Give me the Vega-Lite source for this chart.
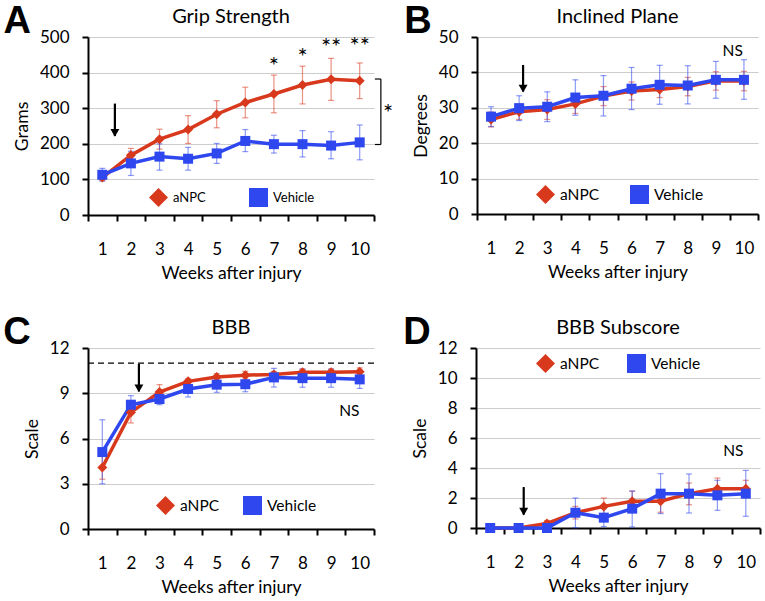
{
"$schema":"https://vega.github.io/schema/vega-lite/v6.json",
"padding":{"left":3,"top":3,"right":2,"bottom":2},
"config":{
 "font":"Lato",
 "view":{"stroke":null},
 "axis":{"domainColor":"#000","domainWidth":2,"tickColor":"#000","tickWidth":2,"tickSize":6,"labelFontSize":17,"labelColor":"#000","titleFontSize":17.5,"titleColor":"#000","titleFontWeight":"normal","labelFont":"Lato","titleFont":"Lato"},
 "axisX":{"grid":false,"labelPadding":20,"titlePadding":7,"labelFlush":false,"labelOverlap":false,"labelAngle":0},
 "axisY":{"gridColor":"#cccccc","gridWidth":1.2,"labelPadding":13,"titlePadding":8,"labelOverlap":false},
 "title":{"fontSize":20,"fontWeight":"normal","color":"#000","font":"Lato","offset":1},
 "legend":{"labelFont":"Lato","labelColor":"#000","symbolOpacity":1}
},
"resolve":{"scale":{"color":"independent","shape":"independent"},"legend":{"color":"independent","shape":"independent"}},
"spacing":32,
"vconcat":[
{"resolve":{"scale":{"color":"independent","shape":"independent"},"legend":{"color":"independent","shape":"independent"}},
 "hconcat":[
 {"title":{"text":"A","anchor":"start","fontSize":38,"fontWeight":"bold","font":"Liberation Sans","offset":-34,"dx":-10},
  "vconcat":[{
   "title":"Grip Strength","width":286,"height":178,
   "data":{"values":[
    {"week":1,"group":"aNPC","mean":105,"lo":97,"hi":113},
    {"week":2,"group":"aNPC","mean":168,"lo":149,"hi":187},
    {"week":3,"group":"aNPC","mean":213,"lo":185,"hi":241},
    {"week":4,"group":"aNPC","mean":240,"lo":201,"hi":279},
    {"week":5,"group":"aNPC","mean":283,"lo":245,"hi":321},
    {"week":6,"group":"aNPC","mean":316,"lo":273,"hi":359},
    {"week":7,"group":"aNPC","mean":340,"lo":287,"hi":393},
    {"week":8,"group":"aNPC","mean":365,"lo":312,"hi":418},
    {"week":9,"group":"aNPC","mean":381,"lo":322,"hi":440},
    {"week":10,"group":"aNPC","mean":377,"lo":327,"hi":427},
    {"week":1,"group":"Vehicle","mean":113,"lo":95,"hi":131},
    {"week":2,"group":"Vehicle","mean":145,"lo":111,"hi":179},
    {"week":3,"group":"Vehicle","mean":164,"lo":126,"hi":200},
    {"week":4,"group":"Vehicle","mean":158,"lo":126,"hi":190},
    {"week":5,"group":"Vehicle","mean":173,"lo":145,"hi":201},
    {"week":6,"group":"Vehicle","mean":208,"lo":178,"hi":240},
    {"week":7,"group":"Vehicle","mean":199,"lo":174,"hi":224},
    {"week":8,"group":"Vehicle","mean":199,"lo":163,"hi":237},
    {"week":9,"group":"Vehicle","mean":195,"lo":158,"hi":234},
    {"week":10,"group":"Vehicle","mean":204,"lo":155,"hi":253}
   ]},
   "encoding":{
    "x":{"field":"week","type":"quantitative","title":"Weeks after injury","scale":{"domain":[0.5,10.5],"nice":false,"zero":false},
     "axis":{"values":[0.5,1.5,2.5,3.5,4.5,5.5,6.5,7.5,8.5,9.5,10.5],"labelExpr":"datum.value > 10 ? '' : format(datum.value + 0.5, 'd')","labelOffset":14.3,"title":"Weeks after injury"}},
    "color":{"field":"group","type":"nominal","scale":{"domain":["aNPC","Vehicle"],"range":["#d8391d","#2e47ee"]}}
   },
   "layer":[
    {"mark":{"type":"errorbar","ticks":{"size":6},"thickness":1.2,"opacity":0.55},
     "encoding":{"y":{"field":"lo","type":"quantitative","title":"Grams","scale":{"domain":[0,500],"nice":false},"axis":{"title":"Grams","values":[0,100,200,300,400,500]}},"y2":{"field":"hi"}}},
    {"mark":{"type":"line","strokeWidth":3.5},
     "encoding":{"y":{"field":"mean","type":"quantitative","title":"Grams","scale":{"domain":[0,500],"nice":false},"axis":{"title":"Grams","values":[0,100,200,300,400,500]}}}},
    {"mark":{"type":"point","filled":true,"opacity":1,"size":100},
     "encoding":{"y":{"field":"mean","type":"quantitative","title":"Grams","scale":{"domain":[0,500],"nice":false},"axis":{"title":"Grams","values":[0,100,200,300,400,500]}},
      "shape":{"field":"group","type":"nominal","scale":{"domain":["aNPC","Vehicle"],"range":["diamond","square"]},"legend":{"orient":"none","legendX":61,"legendY":151,"direction":"horizontal","title":null,"labelFontSize":13,"symbolSize":360,"columnPadding":43,"labelOffset":5,"symbolStrokeWidth":0,"symbolOpacity":1}},
      "color":{"field":"group","type":"nominal","scale":{"domain":["aNPC","Vehicle"],"range":["#d8391d","#2e47ee"]},"legend":{"orient":"none","legendX":61,"legendY":151,"direction":"horizontal","title":null,"labelFontSize":13,"symbolSize":360,"columnPadding":43,"labelOffset":5,"symbolStrokeWidth":0,"symbolOpacity":1}}}},
    {"data":{"values":[{"x":7,"v":429,"label":"*"},{"x":8,"v":455,"label":"*"},{"x":9,"v":482,"label":"**"},{"x":10,"v":487,"label":"**"},{"x":10.99,"v":298,"label":"*"}]},
     "mark":{"type":"text","fontSize":24,"baseline":"middle","dy":5},
     "encoding":{"x":{"field":"x","type":"quantitative","title":"Weeks after injury","scale":{"domain":[0.5,10.5],"nice":false,"zero":false}},
      "y":{"field":"v","type":"quantitative","title":"Grams","scale":{"domain":[0,500],"nice":false},"axis":{"title":"Grams","values":[0,100,200,300,400,500]}},
      "text":{"field":"label"},"color":{"value":"#000"}}},
    {"data":{"values":[{"x":10.53,"x2":10.74,"y":382,"y2":382},{"x":10.53,"x2":10.74,"y":198,"y2":198},{"x":10.74,"x2":10.74,"y":198,"y2":382}]},
     "mark":{"type":"rule","strokeWidth":1.2},
     "encoding":{"x":{"field":"x","type":"quantitative","title":"Weeks after injury","scale":{"domain":[0.5,10.5],"nice":false,"zero":false}},"x2":{"field":"x2"},
      "y":{"field":"y","type":"quantitative","title":"Grams","scale":{"domain":[0,500],"nice":false},"axis":{"title":"Grams","values":[0,100,200,300,400,500]}},"y2":{"field":"y2"},"color":{"value":"#000"}}},
    {"data":{"values":[{"x":1.44,"top":313,"tip":222}]},
     "mark":{"type":"rule","strokeWidth":2.2},
     "encoding":{"x":{"field":"x","type":"quantitative","title":"Weeks after injury","scale":{"domain":[0.5,10.5],"nice":false,"zero":false}},
      "y":{"field":"top","type":"quantitative","title":"Grams","scale":{"domain":[0,500],"nice":false},"axis":{"title":"Grams","values":[0,100,200,300,400,500]}},"y2":{"field":"tip"},"color":{"value":"#000"}}},
    {"data":{"values":[{"x":1.44,"top":313,"tip":222}]},
     "mark":{"type":"point","shape":"triangle-down","filled":true,"size":80,"opacity":1,"yOffset":-3},
     "encoding":{"x":{"field":"x","type":"quantitative","title":"Weeks after injury","scale":{"domain":[0.5,10.5],"nice":false,"zero":false}},
      "y":{"field":"tip","type":"quantitative","title":"Grams","scale":{"domain":[0,500],"nice":false},"axis":{"title":"Grams","values":[0,100,200,300,400,500]}},"color":{"value":"#000"}}}
   ]
  }]
 },
 {"title":{"text":"B","anchor":"start","fontSize":38,"fontWeight":"bold","font":"Liberation Sans","offset":-34,"dx":-8},
  "vconcat":[{
   "title":"Inclined Plane","width":281,"height":177,
   "data":{"values":[
    {"week":1,"group":"aNPC","mean":26.7,"lo":24.6,"hi":28.8},
    {"week":2,"group":"aNPC","mean":28.9,"lo":26.7,"hi":31.1},
    {"week":3,"group":"aNPC","mean":29.5,"lo":26.7,"hi":32.3},
    {"week":4,"group":"aNPC","mean":31.1,"lo":28.4,"hi":33.8},
    {"week":5,"group":"aNPC","mean":33.3,"lo":30.6,"hi":36.0},
    {"week":6,"group":"aNPC","mean":34.75,"lo":32.2,"hi":37.3},
    {"week":7,"group":"aNPC","mean":35.2,"lo":32.9,"hi":37.6},
    {"week":8,"group":"aNPC","mean":36.0,"lo":33.4,"hi":38.6},
    {"week":9,"group":"aNPC","mean":37.6,"lo":35.0,"hi":40.2},
    {"week":10,"group":"aNPC","mean":37.6,"lo":34.8,"hi":40.3},
    {"week":1,"group":"Vehicle","mean":27.5,"lo":24.7,"hi":30.3},
    {"week":2,"group":"Vehicle","mean":29.9,"lo":26.4,"hi":33.4},
    {"week":3,"group":"Vehicle","mean":30.3,"lo":26.1,"hi":34.5},
    {"week":4,"group":"Vehicle","mean":32.9,"lo":27.9,"hi":37.9},
    {"week":5,"group":"Vehicle","mean":33.4,"lo":27.7,"hi":39.1},
    {"week":6,"group":"Vehicle","mean":35.4,"lo":29.5,"hi":41.4},
    {"week":7,"group":"Vehicle","mean":36.5,"lo":31.0,"hi":42.0},
    {"week":8,"group":"Vehicle","mean":36.3,"lo":31.1,"hi":41.9},
    {"week":9,"group":"Vehicle","mean":37.9,"lo":32.7,"hi":43.1},
    {"week":10,"group":"Vehicle","mean":37.9,"lo":32.4,"hi":43.6}
   ]},
   "encoding":{
    "x":{"field":"week","type":"quantitative","title":"Weeks after injury","scale":{"domain":[0.5,10.5],"nice":false,"zero":false},
     "axis":{"values":[0.5,1.5,2.5,3.5,4.5,5.5,6.5,7.5,8.5,9.5,10.5],"labelExpr":"datum.value > 10 ? '' : format(datum.value + 0.5, 'd')","labelOffset":14.05,"title":"Weeks after injury"}},
    "color":{"field":"group","type":"nominal","scale":{"domain":["aNPC","Vehicle"],"range":["#d8391d","#2e47ee"]}}
   },
   "layer":[
    {"mark":{"type":"errorbar","ticks":{"size":6},"thickness":1.2,"opacity":0.55},
     "encoding":{"y":{"field":"lo","type":"quantitative","title":"Degrees","scale":{"domain":[0,50],"nice":false},"axis":{"title":"Degrees","values":[0,10,20,30,40,50]}},"y2":{"field":"hi"}}},
    {"mark":{"type":"line","strokeWidth":3.5},
     "encoding":{"y":{"field":"mean","type":"quantitative","title":"Degrees","scale":{"domain":[0,50],"nice":false},"axis":{"title":"Degrees","values":[0,10,20,30,40,50]}}}},
    {"mark":{"type":"point","filled":true,"opacity":1,"size":100},
     "encoding":{"y":{"field":"mean","type":"quantitative","title":"Degrees","scale":{"domain":[0,50],"nice":false},"axis":{"title":"Degrees","values":[0,10,20,30,40,50]}},
      "shape":{"field":"group","type":"nominal","scale":{"domain":["aNPC","Vehicle"],"range":["diamond","square"]},"legend":{"orient":"none","legendX":59,"legendY":148,"direction":"horizontal","title":null,"labelFontSize":15.5,"symbolSize":360,"columnPadding":30,"labelOffset":5,"symbolStrokeWidth":0,"symbolOpacity":1}},
      "color":{"field":"group","type":"nominal","scale":{"domain":["aNPC","Vehicle"],"range":["#d8391d","#2e47ee"]},"legend":{"orient":"none","legendX":59,"legendY":148,"direction":"horizontal","title":null,"labelFontSize":15.5,"symbolSize":360,"columnPadding":30,"labelOffset":5,"symbolStrokeWidth":0,"symbolOpacity":1}}}},
    {"data":{"values":[{"x":9.6,"v":46.1,"label":"NS"}]},
     "mark":{"type":"text","fontSize":15.5,"baseline":"middle"},
     "encoding":{"x":{"field":"x","type":"quantitative","title":"Weeks after injury","scale":{"domain":[0.5,10.5],"nice":false,"zero":false}},
      "y":{"field":"v","type":"quantitative","title":"Degrees","scale":{"domain":[0,50],"nice":false},"axis":{"title":"Degrees","values":[0,10,20,30,40,50]}},
      "text":{"field":"label"},"color":{"value":"#000"}}},
    {"data":{"values":[{"x":2.14,"top":42.1,"tip":34.6}]},
     "mark":{"type":"rule","strokeWidth":2.2},
     "encoding":{"x":{"field":"x","type":"quantitative","title":"Weeks after injury","scale":{"domain":[0.5,10.5],"nice":false,"zero":false}},
      "y":{"field":"top","type":"quantitative","title":"Degrees","scale":{"domain":[0,50],"nice":false},"axis":{"title":"Degrees","values":[0,10,20,30,40,50]}},"y2":{"field":"tip"},"color":{"value":"#000"}}},
    {"data":{"values":[{"x":2.14,"top":42.1,"tip":34.6}]},
     "mark":{"type":"point","shape":"triangle-down","filled":true,"size":80,"opacity":1,"yOffset":-3},
     "encoding":{"x":{"field":"x","type":"quantitative","title":"Weeks after injury","scale":{"domain":[0.5,10.5],"nice":false,"zero":false}},
      "y":{"field":"tip","type":"quantitative","title":"Degrees","scale":{"domain":[0,50],"nice":false},"axis":{"title":"Degrees","values":[0,10,20,30,40,50]}},"color":{"value":"#000"}}}
   ]
  }]
 }
],"spacing":10},
{"resolve":{"scale":{"color":"independent","shape":"independent"},"legend":{"color":"independent","shape":"independent"}},
 "hconcat":[
 {"title":{"text":"C","anchor":"start","fontSize":38,"fontWeight":"bold","font":"Liberation Sans","offset":-34,"dx":-20},
  "vconcat":[{
   "title":"BBB","width":286,"height":181,
   "data":{"values":[
    {"week":1,"group":"aNPC","mean":4.08,"lo":3.3,"hi":4.9},
    {"week":2,"group":"aNPC","mean":7.73,"lo":7.03,"hi":8.43},
    {"week":3,"group":"aNPC","mean":9.08,"lo":8.6,"hi":9.57},
    {"week":4,"group":"aNPC","mean":9.79,"lo":9.62,"hi":9.96},
    {"week":5,"group":"aNPC","mean":10.08,"lo":9.86,"hi":10.3},
    {"week":6,"group":"aNPC","mean":10.2,"lo":9.95,"hi":10.45},
    {"week":7,"group":"aNPC","mean":10.25,"lo":10.05,"hi":10.45},
    {"week":8,"group":"aNPC","mean":10.4,"lo":10.2,"hi":10.6},
    {"week":9,"group":"aNPC","mean":10.4,"lo":10.2,"hi":10.6},
    {"week":10,"group":"aNPC","mean":10.43,"lo":10.18,"hi":10.68},
    {"week":1,"group":"Vehicle","mean":5.1,"lo":3.0,"hi":7.24},
    {"week":2,"group":"Vehicle","mean":8.24,"lo":7.64,"hi":8.84},
    {"week":3,"group":"Vehicle","mean":8.62,"lo":8.24,"hi":9.0},
    {"week":4,"group":"Vehicle","mean":9.28,"lo":8.75,"hi":9.8},
    {"week":5,"group":"Vehicle","mean":9.57,"lo":9.06,"hi":10.08},
    {"week":6,"group":"Vehicle","mean":9.6,"lo":9.1,"hi":10.1},
    {"week":7,"group":"Vehicle","mean":10.05,"lo":9.41,"hi":10.65},
    {"week":8,"group":"Vehicle","mean":10.0,"lo":9.4,"hi":10.6},
    {"week":9,"group":"Vehicle","mean":10.0,"lo":9.4,"hi":10.6},
    {"week":10,"group":"Vehicle","mean":9.92,"lo":9.32,"hi":10.52}
   ]},
   "encoding":{
    "x":{"field":"week","type":"quantitative","title":"Weeks after injury","scale":{"domain":[0.5,10.5],"nice":false,"zero":false},
     "axis":{"values":[0.5,1.5,2.5,3.5,4.5,5.5,6.5,7.5,8.5,9.5,10.5],"labelExpr":"datum.value > 10 ? '' : format(datum.value + 0.5, 'd')","labelOffset":14.3,"title":"Weeks after injury"}},
    "color":{"field":"group","type":"nominal","scale":{"domain":["aNPC","Vehicle"],"range":["#d8391d","#2e47ee"]}}
   },
   "layer":[
    {"data":{"values":[{"x":0.5,"x2":10.57,"v":11}]},
     "mark":{"type":"rule","strokeWidth":1.3,"strokeDash":[6,4]},
     "encoding":{"x":{"field":"x","type":"quantitative","title":"Weeks after injury","scale":{"domain":[0.5,10.5],"nice":false,"zero":false}},"x2":{"field":"x2"},
      "y":{"field":"v","type":"quantitative","title":"Scale","scale":{"domain":[0,12],"nice":false},"axis":{"title":"Scale","values":[0,3,6,9,12]}},"color":{"value":"#000"}}},
    {"mark":{"type":"errorbar","ticks":{"size":6},"thickness":1.2,"opacity":0.55},
     "encoding":{"y":{"field":"lo","type":"quantitative","title":"Scale","scale":{"domain":[0,12],"nice":false},"axis":{"title":"Scale","values":[0,3,6,9,12]}},"y2":{"field":"hi"}}},
    {"mark":{"type":"line","strokeWidth":3.5},
     "encoding":{"y":{"field":"mean","type":"quantitative","title":"Scale","scale":{"domain":[0,12],"nice":false},"axis":{"title":"Scale","values":[0,3,6,9,12]}}}},
    {"mark":{"type":"point","filled":true,"opacity":1,"size":100},
     "encoding":{"y":{"field":"mean","type":"quantitative","title":"Scale","scale":{"domain":[0,12],"nice":false},"axis":{"title":"Scale","values":[0,3,6,9,12]}},
      "shape":{"field":"group","type":"nominal","scale":{"domain":["aNPC","Vehicle"],"range":["diamond","square"]},"legend":{"orient":"none","legendX":68,"legendY":148,"direction":"horizontal","title":null,"labelFontSize":15.5,"symbolSize":360,"columnPadding":23,"labelOffset":5,"symbolStrokeWidth":0,"symbolOpacity":1}},
      "color":{"field":"group","type":"nominal","scale":{"domain":["aNPC","Vehicle"],"range":["#d8391d","#2e47ee"]},"legend":{"orient":"none","legendX":68,"legendY":148,"direction":"horizontal","title":null,"labelFontSize":15.5,"symbolSize":360,"columnPadding":23,"labelOffset":5,"symbolStrokeWidth":0,"symbolOpacity":1}}}},
    {"data":{"values":[{"x":9.64,"v":7.84,"label":"NS"}]},
     "mark":{"type":"text","fontSize":15.5,"baseline":"middle"},
     "encoding":{"x":{"field":"x","type":"quantitative","title":"Weeks after injury","scale":{"domain":[0.5,10.5],"nice":false,"zero":false}},
      "y":{"field":"v","type":"quantitative","title":"Scale","scale":{"domain":[0,12],"nice":false},"axis":{"title":"Scale","values":[0,3,6,9,12]}},
      "text":{"field":"label"},"color":{"value":"#000"}}},
    {"data":{"values":[{"x":2.28,"top":10.94,"tip":9.12}]},
     "mark":{"type":"rule","strokeWidth":2.2},
     "encoding":{"x":{"field":"x","type":"quantitative","title":"Weeks after injury","scale":{"domain":[0.5,10.5],"nice":false,"zero":false}},
      "y":{"field":"top","type":"quantitative","title":"Scale","scale":{"domain":[0,12],"nice":false},"axis":{"title":"Scale","values":[0,3,6,9,12]}},"y2":{"field":"tip"},"color":{"value":"#000"}}},
    {"data":{"values":[{"x":2.28,"top":10.94,"tip":9.12}]},
     "mark":{"type":"point","shape":"triangle-down","filled":true,"size":80,"opacity":1,"yOffset":-3},
     "encoding":{"x":{"field":"x","type":"quantitative","title":"Weeks after injury","scale":{"domain":[0.5,10.5],"nice":false,"zero":false}},
      "y":{"field":"tip","type":"quantitative","title":"Scale","scale":{"domain":[0,12],"nice":false},"axis":{"title":"Scale","values":[0,3,6,9,12]}},"color":{"value":"#000"}}}
   ]
  }]
 },
 {"title":{"text":"D","anchor":"start","fontSize":38,"fontWeight":"bold","font":"Liberation Sans","offset":-34,"dx":-8},
  "vconcat":[{
   "title":"BBB Subscore","width":284,"height":180,
   "data":{"values":[
    {"week":1,"group":"aNPC","mean":0,"lo":null,"hi":null},
    {"week":2,"group":"aNPC","mean":0,"lo":null,"hi":null},
    {"week":3,"group":"aNPC","mean":0.3,"lo":0.1,"hi":0.5},
    {"week":4,"group":"aNPC","mean":1.02,"lo":0.6,"hi":1.44},
    {"week":5,"group":"aNPC","mean":1.44,"lo":0.9,"hi":2.0},
    {"week":6,"group":"aNPC","mean":1.78,"lo":1.1,"hi":2.45},
    {"week":7,"group":"aNPC","mean":1.78,"lo":1.05,"hi":2.5},
    {"week":8,"group":"aNPC","mean":2.29,"lo":1.55,"hi":3.0},
    {"week":9,"group":"aNPC","mean":2.62,"lo":1.9,"hi":3.33},
    {"week":10,"group":"aNPC","mean":2.62,"lo":2.05,"hi":3.18},
    {"week":1,"group":"Vehicle","mean":0,"lo":null,"hi":null},
    {"week":2,"group":"Vehicle","mean":0,"lo":null,"hi":null},
    {"week":3,"group":"Vehicle","mean":0,"lo":null,"hi":null},
    {"week":4,"group":"Vehicle","mean":1.02,"lo":0.02,"hi":2.0},
    {"week":5,"group":"Vehicle","mean":0.69,"lo":0.1,"hi":1.29},
    {"week":6,"group":"Vehicle","mean":1.29,"lo":0.07,"hi":2.47},
    {"week":7,"group":"Vehicle","mean":2.29,"lo":0.96,"hi":3.62},
    {"week":8,"group":"Vehicle","mean":2.29,"lo":1.0,"hi":3.6},
    {"week":9,"group":"Vehicle","mean":2.18,"lo":1.18,"hi":3.18},
    {"week":10,"group":"Vehicle","mean":2.29,"lo":0.78,"hi":3.84}
   ]},
   "encoding":{
    "x":{"field":"week","type":"quantitative","title":"Weeks after injury","scale":{"domain":[0.5,10.5],"nice":false,"zero":false},
     "axis":{"values":[0.5,1.5,2.5,3.5,4.5,5.5,6.5,7.5,8.5,9.5,10.5],"labelExpr":"datum.value > 10 ? '' : format(datum.value + 0.5, 'd')","labelOffset":14.2,"title":"Weeks after injury"}},
    "color":{"field":"group","type":"nominal","scale":{"domain":["aNPC","Vehicle"],"range":["#d8391d","#2e47ee"]}}
   },
   "layer":[
    {"mark":{"type":"errorbar","ticks":{"size":6},"thickness":1.2,"opacity":0.55},
     "encoding":{"y":{"field":"lo","type":"quantitative","title":"Scale","scale":{"domain":[0,12],"nice":false},"axis":{"title":"Scale","values":[0,2,4,6,8,10,12]}},"y2":{"field":"hi"}}},
    {"mark":{"type":"line","strokeWidth":3.5},
     "encoding":{"y":{"field":"mean","type":"quantitative","title":"Scale","scale":{"domain":[0,12],"nice":false},"axis":{"title":"Scale","values":[0,2,4,6,8,10,12]}}}},
    {"mark":{"type":"point","filled":true,"opacity":1,"size":100},
     "encoding":{"y":{"field":"mean","type":"quantitative","title":"Scale","scale":{"domain":[0,12],"nice":false},"axis":{"title":"Scale","values":[0,2,4,6,8,10,12]}},
      "shape":{"field":"group","type":"nominal","scale":{"domain":["aNPC","Vehicle"],"range":["diamond","square"]},"legend":{"orient":"none","legendX":60,"legendY":6,"direction":"horizontal","title":null,"labelFontSize":15.5,"symbolSize":360,"columnPadding":27,"labelOffset":5,"symbolStrokeWidth":0,"symbolOpacity":1}},
      "color":{"field":"group","type":"nominal","scale":{"domain":["aNPC","Vehicle"],"range":["#d8391d","#2e47ee"]},"legend":{"orient":"none","legendX":60,"legendY":6,"direction":"horizontal","title":null,"labelFontSize":15.5,"symbolSize":360,"columnPadding":27,"labelOffset":5,"symbolStrokeWidth":0,"symbolOpacity":1}}}},
    {"data":{"values":[{"x":9.56,"v":5.13,"label":"NS"}]},
     "mark":{"type":"text","fontSize":15.5,"baseline":"middle"},
     "encoding":{"x":{"field":"x","type":"quantitative","title":"Weeks after injury","scale":{"domain":[0.5,10.5],"nice":false,"zero":false}},
      "y":{"field":"v","type":"quantitative","title":"Scale","scale":{"domain":[0,12],"nice":false},"axis":{"title":"Scale","values":[0,2,4,6,8,10,12]}},
      "text":{"field":"label"},"color":{"value":"#000"}}},
    {"data":{"values":[{"x":2.18,"top":2.73,"tip":0.89}]},
     "mark":{"type":"rule","strokeWidth":2.2},
     "encoding":{"x":{"field":"x","type":"quantitative","title":"Weeks after injury","scale":{"domain":[0.5,10.5],"nice":false,"zero":false}},
      "y":{"field":"top","type":"quantitative","title":"Scale","scale":{"domain":[0,12],"nice":false},"axis":{"title":"Scale","values":[0,2,4,6,8,10,12]}},"y2":{"field":"tip"},"color":{"value":"#000"}}},
    {"data":{"values":[{"x":2.18,"top":2.73,"tip":0.89}]},
     "mark":{"type":"point","shape":"triangle-down","filled":true,"size":80,"opacity":1,"yOffset":-3},
     "encoding":{"x":{"field":"x","type":"quantitative","title":"Weeks after injury","scale":{"domain":[0.5,10.5],"nice":false,"zero":false}},
      "y":{"field":"tip","type":"quantitative","title":"Scale","scale":{"domain":[0,12],"nice":false},"axis":{"title":"Scale","values":[0,2,4,6,8,10,12]}},"color":{"value":"#000"}}}
   ]
  }]
 }
],"spacing":14}
]
}
